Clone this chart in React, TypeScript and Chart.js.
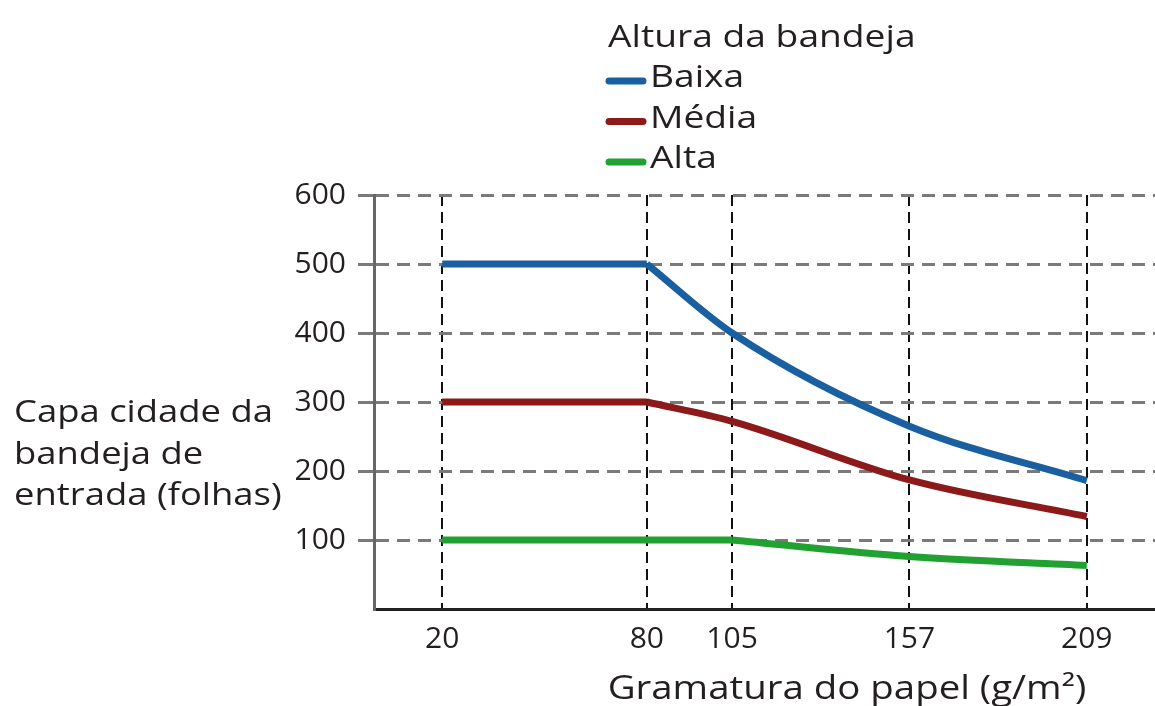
import React, { useEffect, useRef } from "react";
import { Chart, registerables } from "chart.js";

Chart.register(...registerables);

// ---- data ----
const X_TICKS = [20, 80, 105, 157, 209];
const Y_TICKS = [100, 200, 300, 400, 500, 600];
const GRAMATURA = [20, 80, 105, 157, 209];
const BAIXA = [500, 500, 400, 265, 186];
const MEDIA = [300, 300, 272, 187, 134];
const ALTA = [100, 100, 100, 76, 63];
const SERIES_NAMES = ["Baixa", "Média", "Alta"];
const SERIES_VALUES = [BAIXA, MEDIA, ALTA];
const CURVE_START = [1, 1, 2];
const LEGEND_TITLE = "Altura da bandeja";
const Y_TITLE_LINES = ["Capa cidade da", "bandeja de", "entrada (folhas)"];
const X_TITLE = "Gramatura do papel (g/m²)";

// ---- style ----
const SERIES_COLORS = ["#1a5fa0", "#8c1a1a", "#22a133"];
const TEXT_COLOR = "#231f20";
const FONT_FAMILY = '"Open Sans", "Noto Sans", sans-serif';

function drawText(
  ctx: CanvasRenderingContext2D,
  text: string,
  x: number,
  y: number,
  align: "left" | "center",
  size: number,
  stretch: number
) {
  ctx.save();
  ctx.font = `${size}px ${FONT_FAMILY}`;
  ctx.translate(x, y);
  ctx.scale(stretch, 1);
  ctx.textAlign = align;
  ctx.fillText(text, 0, 0);
  ctx.restore();
}

const textPlugin = {
  id: "customText",
  afterDraw(chart: any) {
    const ctx: CanvasRenderingContext2D = chart.ctx;
    const area = chart.chartArea;
    ctx.save();
    ctx.fillStyle = TEXT_COLOR;
    ctx.textBaseline = "alphabetic";
    // legend
    const lx = 606;
    drawText(ctx, LEGEND_TITLE, lx + 2, 47, "left", 31, 1.2);
    SERIES_NAMES.forEach((name, i) => {
      const base = 87 + i * 40.5;
      ctx.save();
      ctx.strokeStyle = SERIES_COLORS[i];
      ctx.lineWidth = 7;
      ctx.lineCap = "round";
      ctx.beginPath();
      ctx.moveTo(lx + 3, base - 6);
      ctx.lineTo(lx + 37, base - 6);
      ctx.stroke();
      ctx.restore();
      drawText(ctx, name, lx + 44, base, "left", 31, 1.2);
    });
    // y title
    Y_TITLE_LINES.forEach((line, i) => {
      drawText(ctx, line, 14, 422 + i * 41.5, "left", 31, 1.175);
    });
    // x title
    drawText(ctx, X_TITLE, area.left + 473, 699, "center", 32, 1.2);
    ctx.restore();
  },
};

export default function App() {
  const ref = useRef<HTMLCanvasElement | null>(null);

  useEffect(() => {
    if (!ref.current) return;
    const datasets: any[] = [];
    SERIES_VALUES.forEach((vals, i) => {
      const pts = GRAMATURA.map((x, j) => ({ x, y: vals[j] }));
      const k = CURVE_START[i];
      const common = {
        borderColor: SERIES_COLORS[i],
        backgroundColor: SERIES_COLORS[i],
        borderWidth: 7,
        pointRadius: 0,
        fill: false,
        borderCapStyle: "butt",
        borderJoinStyle: "round",
      };
      datasets.push({ ...common, label: SERIES_NAMES[i], data: pts.slice(0, k + 1), tension: 0 });
      datasets.push({
        ...common,
        label: SERIES_NAMES[i] + " (curva)",
        data: pts.slice(k),
        tension: 0.4,
        cubicInterpolationMode: "monotone",
      });
    });

    const chart = new Chart(ref.current, {
      type: "line",
      data: { datasets },
      plugins: [textPlugin],
      options: {
        animation: false,
        responsive: false,
        devicePixelRatio: 1,
        layout: { padding: { top: 195, left: 0, right: 0, bottom: 0 } },
        plugins: { legend: { display: false }, tooltip: { enabled: false } },
        scales: {
          x: {
            type: "linear",
            min: 0,
            max: 229,
            afterBuildTicks: (scale: any) => {
              scale.ticks = X_TICKS.map((v) => ({ value: v }));
            },
            afterFit: (scale: any) => {
              scale.height = 97;
            },
            ticks: {
              autoSkip: false,
              maxRotation: 0,
              padding: 12,
              color: TEXT_COLOR,
              font: { family: FONT_FAMILY, size: 30 },
              callback: (v: any) => String(v),
            },
            grid: { color: "#111111", lineWidth: 2, drawTicks: false },
            border: { color: "#222222", width: 3, dash: [11, 6] },
          },
          y: {
            type: "linear",
            min: 0,
            max: 600,
            afterBuildTicks: (scale: any) => {
              scale.ticks = Y_TICKS.map((v) => ({ value: v }));
            },
            afterFit: (scale: any) => {
              scale.width = 374;
            },
            ticks: {
              padding: 12,
              color: TEXT_COLOR,
              font: { family: FONT_FAMILY, size: 30 },
              callback: (v: any) => String(v),
            },
            grid: {
              color: "#7a7a7a",
              lineWidth: 3,
              tickLength: 16,
              tickColor: "#7a7a7a",
              tickWidth: 3,
              tickBorderDash: [],
            },
            border: { color: "#666666", width: 3, dash: [13, 8] },
          },
        },
      } as any,
    });
    return () => chart.destroy();
  }, []);

  return (
    <div style={{ position: "absolute", left: 0, top: 0, width: 1155, height: 706, background: "#fff" }}>
      <canvas ref={ref} width={1155} height={706} />
    </div>
  );
}
